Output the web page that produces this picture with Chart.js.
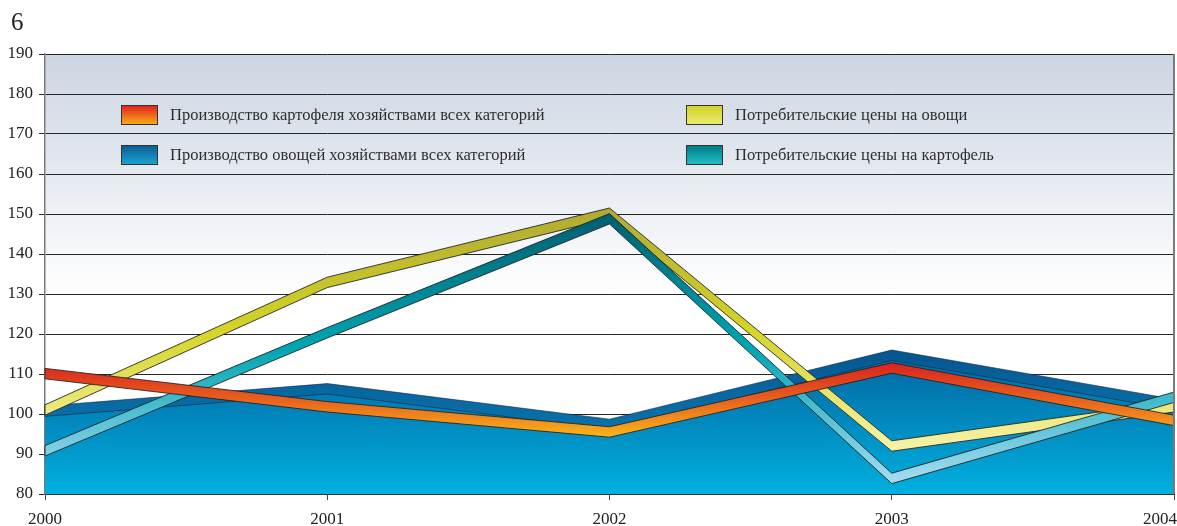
<!DOCTYPE html>
<html>
<head>
<meta charset="utf-8">
<script src="https://cdn.jsdelivr.net/npm/chart.js@4.4.1/dist/chart.umd.min.js"></script>
<style>
    html, body { margin: 0; padding: 0; background: #ffffff; }
    #wrap { width: 1177px; height: 526px; }
</style>
</head>
<body>
<div id="wrap"><canvas id="chart-ribbons" width="1177" height="526"></canvas></div>
<script>
// chart values
const years = ["2000", "2001", "2002", "2003", "2004"];
const potato_production = [110.1, 101.8, 95.5, 111.5, 98.4];
const vegetable_production = [100.7, 106.3, 97.4, 114.7, 102.4];
const vegetable_prices = [101.0, 132.9, 150.2, 92.0, 101.8];
const potato_prices = [90.8, 120.3, 148.8, 83.9, 104.2];
const series_names = [
    "Производство картофеля хозяйствами всех категорий",
    "Производство овощей хозяйствами всех категорий",
    "Потребительские цены на овощи",
    "Потребительские цены на картофель"
];
const chart_number = "6";

const serif = "'Liberation Serif', 'DejaVu Serif', serif";

// ribbon colours, top -> bottom of each series
const ribbon_colors = [
    ["#d9221e", "#e8621e", "#f8b71b"],
    ["#04558e", "#0866a0", "#0a72ab"],
    ["#b0a934", "#d5d426", "#f7f3aa"],
    ["#005e70", "#00a6b2", "#a8dcf3"]
];
const swatch_colors = [
    ["#e01b1e", "#f7b41a"],
    ["#0a5a92", "#1aa6d4"],
    ["#cfd11f", "#ecec78"],
    ["#007884", "#22c2ca"]
];

const ribbonPlugin = {
    id: 'ribbons',
    beforeDraw(chart) {
        const ctx = chart.ctx;
        const a = chart.chartArea;
        const g = ctx.createLinearGradient(0, a.top, 0, a.bottom);
        g.addColorStop(0, "#ccd5e2");
        g.addColorStop(0.55, "#ffffff");
        g.addColorStop(1, "#ffffff");
        ctx.save();
        ctx.fillStyle = g;
        ctx.fillRect(a.left, a.top, a.right - a.left, a.bottom - a.top);
        ctx.restore();
    },
    afterDatasetDraw(chart, args) {
        const ctx = chart.ctx;
        const pts = args.meta.data;
        const idx = args.index;
        const half = 5.2;
        let minY = Infinity, maxY = -Infinity;
        pts.forEach(p => { minY = Math.min(minY, p.y); maxY = Math.max(maxY, p.y); });
        const cols = ribbon_colors[idx];
        const g = ctx.createLinearGradient(0, minY - half, 0, maxY + half);
        g.addColorStop(0, cols[0]);
        g.addColorStop(0.5, cols[1]);
        g.addColorStop(1, cols[2]);
        ctx.save();
        ctx.beginPath();
        pts.forEach((p, i) => {
            if (i === 0) ctx.moveTo(p.x, p.y - half); else ctx.lineTo(p.x, p.y - half);
        });
        for (let i = pts.length - 1; i >= 0; i--) ctx.lineTo(pts[i].x, pts[i].y + half);
        ctx.closePath();
        ctx.fillStyle = g;
        ctx.fill();
        ctx.lineWidth = 1;
        ctx.lineJoin = 'miter';
        ctx.strokeStyle = idx === 1 ? "rgba(20,40,60,0.6)" : "rgba(30,30,30,0.85)";
        ctx.stroke();
        ctx.restore();
    },
    afterDraw(chart) {
        const ctx = chart.ctx;
        const a = chart.chartArea;
        ctx.save();
        // right frame
        ctx.strokeStyle = "#7a7a7a";
        ctx.lineWidth = 2;
        ctx.beginPath();
        ctx.moveTo(a.right, a.top);
        ctx.lineTo(a.right, a.bottom);
        ctx.stroke();
        // number in the corner
        ctx.fillStyle = "#222";
        ctx.font = "25px " + serif;
        ctx.textBaseline = 'alphabetic';
        ctx.textAlign = 'left';
        ctx.fillText(chart_number, 11, 30);
        // year labels, kept inside the canvas
        const xs = chart.scales.x;
        ctx.font = "17px " + serif;
        ctx.textAlign = 'center';
        years.forEach((yr, i) => {
            const w = ctx.measureText(yr).width;
            let px = xs.getPixelForTick(i);
            px = Math.min(px, chart.width - w / 2);
            ctx.fillText(yr, px, 524);
        });
        // legend, two columns
        const slots = [[121, 105], [121, 145], [686, 105], [686, 145]];
        ctx.font = "16.5px " + serif;
        ctx.textAlign = 'left';
        series_names.forEach((name, i) => {
            const [sx, sy] = slots[i];
            const g = ctx.createLinearGradient(0, sy, 0, sy + 20);
            g.addColorStop(0, swatch_colors[i][0]);
            g.addColorStop(1, swatch_colors[i][1]);
            ctx.fillStyle = g;
            ctx.fillRect(sx, sy, 37, 20);
            ctx.strokeStyle = "#333";
            ctx.lineWidth = 1;
            ctx.strokeRect(sx + 0.5, sy + 0.5, 36, 19);
            ctx.fillStyle = "#2e2e2e";
            ctx.fillText(name, sx + 49, sy + 15);
        });
        ctx.restore();
    }
};

const canvas_chart = document.getElementById("chart-ribbons");
const chart_ribbons = new Chart(canvas_chart, {
    type: 'line',
    plugins: [ribbonPlugin],
    data: {
        labels: years,
        datasets: [
            {
                label: series_names[0],
                data: potato_production,
                borderWidth: 0,
                borderColor: 'rgba(0,0,0,0)',
                pointRadius: 0,
                fill: false,
                order: 1
            },
            {
                label: series_names[1],
                data: vegetable_production,
                borderWidth: 0,
                borderColor: 'rgba(0,0,0,0)',
                pointRadius: 0,
                fill: 'start',
                backgroundColor: (c) => {
                    const a = c.chart.chartArea;
                    if (!a) return "#0a6ea6";
                    const g = c.chart.ctx.createLinearGradient(0, a.bottom - 150, 0, a.bottom);
                    g.addColorStop(0, "#02609b");
                    g.addColorStop(1, "#01b0df");
                    return g;
                },
                order: 4
            },
            {
                label: series_names[2],
                data: vegetable_prices,
                borderWidth: 0,
                borderColor: 'rgba(0,0,0,0)',
                pointRadius: 0,
                fill: false,
                order: 3
            },
            {
                label: series_names[3],
                data: potato_prices,
                borderWidth: 0,
                borderColor: 'rgba(0,0,0,0)',
                pointRadius: 0,
                fill: false,
                order: 2
            }
        ]
    },
    options: {
        responsive: false,
        animation: false,
        layout: {
            padding: { top: 54, right: 3, left: 0, bottom: 0 }
        },
        plugins: {
            legend: { display: false },
            tooltip: { enabled: false }
        },
        elements: { line: { tension: 0 } },
        scales: {
            x: {
                offset: false,
                grid: { drawOnChartArea: false, tickLength: 6, color: "#444" },
                border: { display: true, color: "#333" },
                ticks: { display: false },
                afterFit: (scale) => {
                    scale.height = 32;
                    scale.paddingLeft = 0;
                    scale.paddingRight = 0;
                }
            },
            y: {
                min: 80,
                max: 190,
                z: 1,
                grid: { color: "#262626", lineWidth: 1, tickLength: 6 },
                border: { display: true, color: "#7a7a7a", width: 1.5 },
                ticks: {
                    stepSize: 10,
                    font: { family: serif, size: 17 },
                    color: "#222",
                    padding: 6
                },
                afterFit: (scale) => {
                    scale.width = 45;
                    scale.paddingTop = 0;
                    scale.paddingBottom = 0;
                }
            }
        }
    }
});
</script>
</body>
</html>
